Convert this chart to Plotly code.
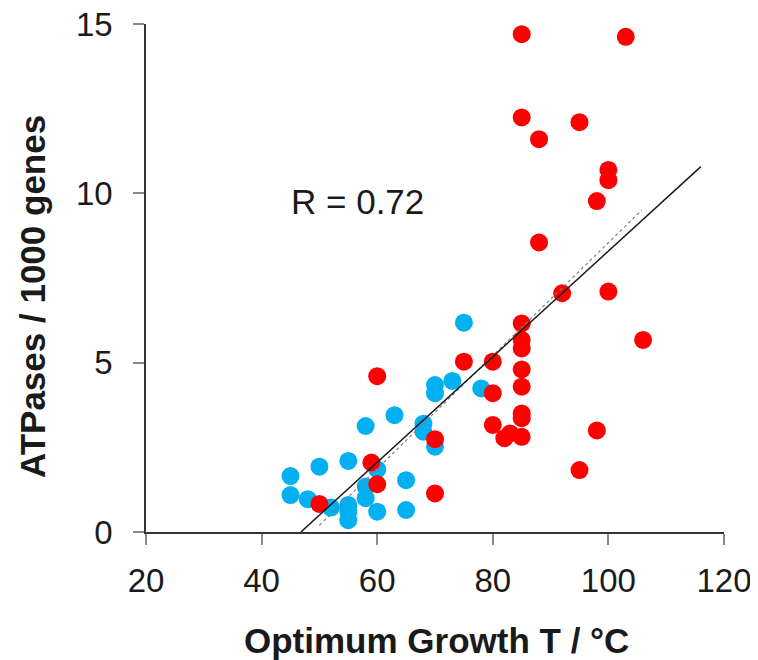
import plotly.graph_objects as go

# Mesophiles / moderate thermophiles (blue)
blue_x = [75, 70, 70, 73, 78, 63, 58, 68, 68, 70, 45, 50, 55, 45, 48, 60, 58, 58, 65, 55, 55, 55, 52, 60, 65]
blue_y = [6.18, 4.34, 4.1, 4.46, 4.24, 3.45, 3.13, 3.2, 2.96, 2.52, 1.65, 1.93, 2.1, 1.09, 0.97, 1.85, 1.34, 1.0, 1.53, 0.8, 0.6, 0.35, 0.72, 0.6, 0.65]

# Hyperthermophiles / others (red)
red_x = [85, 103, 85, 95, 88, 100, 100, 98, 88, 92, 100, 106, 85, 85, 85, 85, 85, 85, 85, 85, 83, 82, 80, 80, 80, 75, 98, 95, 60, 59, 60, 70, 70, 50]
red_y = [14.7, 14.62, 12.24, 12.1, 11.6, 10.69, 10.39, 9.77, 8.55, 7.05, 7.1, 5.67, 6.16, 5.67, 5.42, 4.8, 4.29, 3.5, 3.36, 2.81, 2.91, 2.77, 3.16, 4.1, 5.03, 5.03, 3.0, 1.83, 4.6, 2.05, 1.41, 2.74, 1.14, 0.83]

# Regression lines (end points)
fit_x = [46.8, 116.0]
fit_y = [0.0, 10.79]
fit2_x = [50.0, 105.8]
fit2_y = [0.2, 9.51]

x_ticks = [20, 40, 60, 80, 100, 120]
y_ticks = [0, 5, 10, 15]

FONT = "Liberation Sans, Arial, sans-serif"

fig = go.Figure()
fig.add_trace(go.Scatter(x=blue_x, y=blue_y, mode="markers",
                         marker=dict(color="#00B0F0", size=18, line=dict(width=0)),
                         cliponaxis=False, showlegend=False))
fig.add_trace(go.Scatter(x=red_x, y=red_y, mode="markers",
                         marker=dict(color="#FF0000", size=18, line=dict(width=0)),
                         cliponaxis=False, showlegend=False))
fig.add_trace(go.Scatter(x=fit2_x, y=fit2_y, mode="lines",
                         line=dict(color="#7f7f7f", width=1.2, dash="3px,3px"),
                         showlegend=False))
fig.add_trace(go.Scatter(x=fit_x, y=fit_y, mode="lines",
                         line=dict(color="#1a1a1a", width=1.5),
                         showlegend=False))

fig.add_annotation(x=56.6, y=9.75, xref="x", yref="y", text="R = 0.72",
                   showarrow=False, font=dict(family=FONT, size=35, color="#1a1a1a"))

fig.add_annotation(x=0.502, y=-0.2126, xref="paper", yref="paper",
                   text="<b>Optimum Growth T / °C</b>", showarrow=False,
                   font=dict(family=FONT, size=35, color="#1a1a1a"),
                   xanchor="center", yanchor="middle")
fig.add_annotation(x=-0.1955, y=0.4626, xref="paper", yref="paper",
                   text="<b>ATPases / 1000 genes</b>", showarrow=False, textangle=-90,
                   font=dict(family=FONT, size=35, color="#1a1a1a"),
                   xanchor="center", yanchor="middle")

fig.update_layout(
    width=758, height=660,
    margin=dict(l=138, r=42, t=16, b=136, autoexpand=False),
    paper_bgcolor="white", plot_bgcolor="white",
    font=dict(family=FONT, size=33, color="#1a1a1a"),
)
fig.update_xaxes(range=[20, 120], tickvals=x_ticks, showgrid=False, zeroline=False,
                 showline=True, linecolor="#333333", linewidth=1.5,
                 ticks="outside", ticklen=11, tickcolor="#8a8a8a", tickwidth=1.5,
                 ticklabelstandoff=8, automargin=False, ticklabeloverflow="allow")
fig.update_yaxes(range=[0, 15], tickvals=y_ticks, showgrid=False, zeroline=False,
                 showline=True, linecolor="#333333", linewidth=1.5,
                 ticks="outside", ticklen=11, tickcolor="#8a8a8a", tickwidth=1.5,
                 ticklabelstandoff=14, automargin=False, ticklabeloverflow="allow")

fig.write_html("out.html")
